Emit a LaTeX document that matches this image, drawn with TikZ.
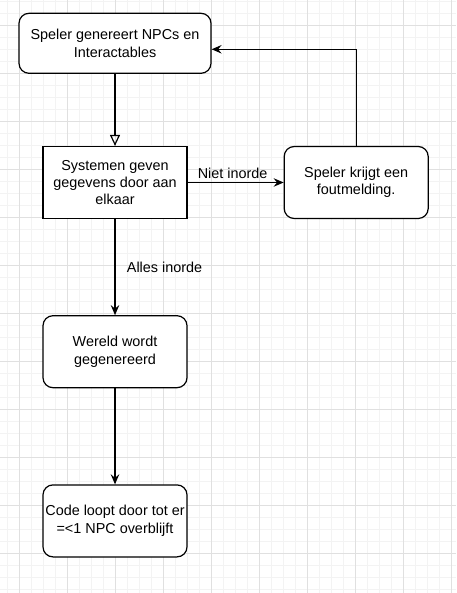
\documentclass[tikz,border=0pt]{standalone}
\usepackage{fontspec}
\setmainfont{Liberation Sans}
\usepackage{tikz}
\usepackage{xcolor}
\usetikzlibrary{arrows.meta, positioning}
\definecolor{Grid_Minor}{HTML}{F3F3F3}
\definecolor{Grid_Major}{HTML}{E0E0E0}

\begin{document}
\begin{tikzpicture}[x=1pt, y=1pt, node distance=96pt, >={Stealth[length=10pt, width=8.5pt, inset=3.5pt]},
    font=\fontsize{14.4pt}{17.3pt}\selectfont,
    roundbox/.style={draw, line width=1.2pt, fill=white, rounded corners=10pt, align=center, minimum width=144pt, minimum height=72pt, inner sep=0pt},
    plainbox/.style={draw, line width=1.2pt, fill=white, align=center, minimum width=144pt, minimum height=72pt, inner sep=0pt},
    conn/.style={line width=1.2pt}]
    \useasboundingbox (0,0) rectangle (456,-593);
    \fill[white] (0,0) rectangle (456,-593);
    % background grid
    \begin{scope}[shift={(7,-1)}]
        \draw[Grid_Minor, line width=0.8pt, step=12pt] (-7,-592) grid (449,1);
    \end{scope}
    \begin{scope}[shift={(19,-25)}]
        \draw[Grid_Major, line width=0.8pt, step=48pt] (-19,-568) grid (437,25);
    \end{scope}

    \node (gen) [roundbox, minimum width=192pt, minimum height=60pt] at (115,-43.3) {Speler genereert NPCs en\\Interactables};
    \node (sys) [plainbox, below=72pt of gen] {Systemen geven\\gegevens door aan\\elkaar};
    \node (fout) [roundbox, right=of sys] {Speler krijgt een\\foutmelding.};
    \node (wereld) [roundbox, below=of sys] {Wereld wordt\\gegenereerd};
    \node (code) [roundbox, below=of wereld] {Code loopt door tot er\\=<1 NPC overblijft};

    \draw[conn, -{Triangle[open, length=11pt, width=10pt]}] (gen) -- (sys);
    \draw[conn, ->] (sys) -- node[above, xshift=-3pt] {Niet inorde} (fout);
    \draw[conn, ->] (fout) |- ([yshift=-6pt]gen.east);
    \draw[conn, ->] (sys) -- node[right=8pt] {Alles inorde} (wereld);
    \draw[conn, ->] (wereld) -- (code);
\end{tikzpicture}
\end{document}
